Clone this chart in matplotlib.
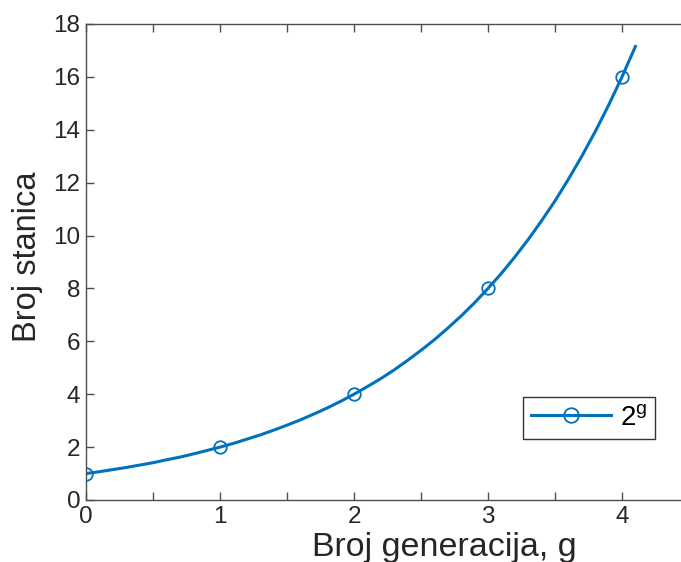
import matplotlib.pyplot as plt
from matplotlib.ticker import MultipleLocator

plt.rcParams['font.family'] = ['Liberation Sans', 'DejaVu Sans']
plt.rcParams['mathtext.fontset'] = 'custom'
plt.rcParams['mathtext.rm'] = 'Liberation Sans'
plt.rcParams['mathtext.it'] = 'Liberation Sans'

# integer generations (markers)
gen_points = [0, 1, 2, 3, 4]
cell_points = [1, 2, 4, 8, 16]

# smooth curve
curve_g = [0.0, 0.1, 0.2, 0.3, 0.4, 0.5, 0.6, 0.7, 0.8, 0.9,
           1.0, 1.1, 1.2, 1.3, 1.4, 1.5, 1.6, 1.7, 1.8, 1.9,
           2.0, 2.1, 2.2, 2.3, 2.4, 2.5, 2.6, 2.7, 2.8, 2.9,
           3.0, 3.1, 3.2, 3.3, 3.4, 3.5, 3.6, 3.7, 3.8, 3.9,
           4.0, 4.1]
curve_cells = [1.00, 1.07, 1.15, 1.23, 1.32, 1.41, 1.52, 1.62, 1.74, 1.87,
               2.00, 2.14, 2.30, 2.46, 2.64, 2.83, 3.03, 3.25, 3.48, 3.73,
               4.00, 4.29, 4.59, 4.92, 5.28, 5.66, 6.06, 6.50, 6.96, 7.46,
               8.00, 8.57, 9.19, 9.85, 10.56, 11.31, 12.13, 13.00, 13.93, 14.93,
               16.00, 17.15]

blue = '#0072BD'

fig = plt.figure(figsize=(6.81, 5.62), dpi=100)
ax = fig.add_axes([86 / 681, 1 - 500 / 562, 603 / 681, 476 / 562])

ax.plot(curve_g, curve_cells, color=blue, linewidth=2.2, label='_nolegend_')
ax.plot(gen_points, cell_points, linestyle='none', marker='o', markersize=9,
        markerfacecolor='none', markeredgecolor=blue, markeredgewidth=1.3)
# legend handle: line with marker
handle, = ax.plot([], [], color=blue, linewidth=2.2, marker='o', markersize=10.5,
                  markerfacecolor='none', markeredgewidth=1.3)

ax.set_xlim(0, 4.5)
ax.set_ylim(0, 18)
ax.xaxis.set_major_locator(MultipleLocator(1))
ax.xaxis.set_minor_locator(MultipleLocator(0.5))
ax.yaxis.set_major_locator(MultipleLocator(2))

ax.tick_params(which='both', direction='in', top=True, right=True,
               length=6, width=1.0, color='#4d4d4d')
ax.tick_params(which='major', labelsize=17.5, labelcolor='#262626', pad=4)
for sp in ax.spines.values():
    sp.set_color('#4d4d4d')
    sp.set_linewidth(1.0)

ax.set_xlabel('Broj generacija, g', fontsize=24.5, color='#262626', va='center')
ax.xaxis.set_label_coords(0.594, -0.1)
ax.set_ylabel('Broj stanica', fontsize=23.5, color='#262626', va='center')
ax.yaxis.set_label_coords(-0.097, 0.51)

leg = fig.legend([handle], ['$2^{g}$'], loc='center',
                 bbox_to_anchor=(589 / 681, 1 - 418 / 562), fontsize=20,
                 frameon=True, fancybox=False, framealpha=1, handlelength=2.9,
                 borderpad=0.3, handletextpad=0.3)
leg.get_frame().set_edgecolor('#333333')
leg.get_frame().set_linewidth(1.0)

fig.savefig('out.png', dpi=100)
